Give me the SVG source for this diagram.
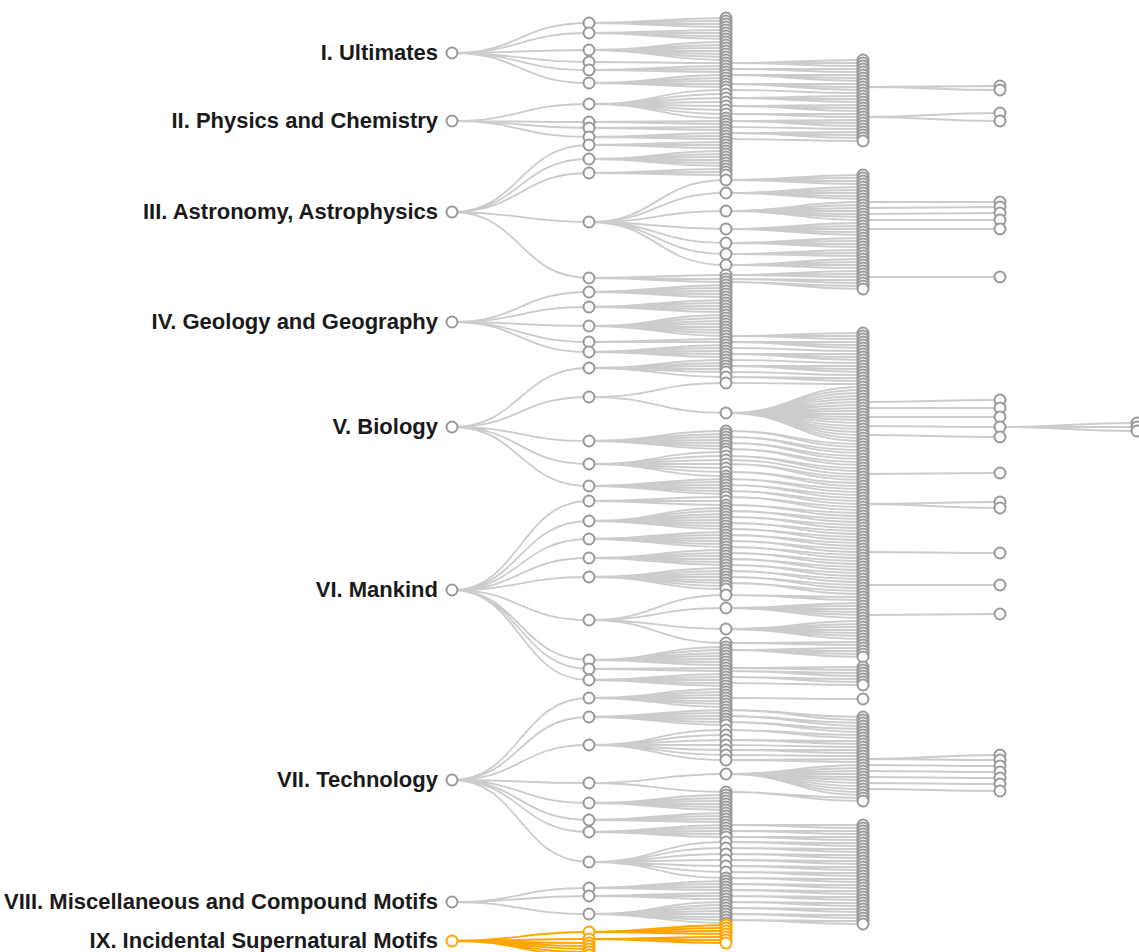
<svg xmlns="http://www.w3.org/2000/svg" width="1139" height="952" viewBox="0 0 1139 952">
<style>
.lk path{fill:none;stroke:#ccc;stroke-width:1.8}
.lk path.o{stroke:#ffa500}
circle{r:5.5px;fill:#fff;stroke:#999;stroke-width:2}
.o circle,circle.o{stroke:#ffa500}
text{font-family:"Liberation Sans",Arial,sans-serif;font-weight:bold;font-size:22px;fill:#1a1a1a;text-anchor:end}
</style>
<rect width="1139" height="952" fill="#fff"/>
<g id="links" class="lk">
<path d="M452 53c68 0 68 -30 137 -30M452 53c68 0 68 -20 137 -20M452 53c68 0 68 -3 137 -3M452 53c68 0 68 9 137 9M452 53c68 0 68 17 137 17M452 53c68 0 68 30 137 30"/>
<path d="M452 121c68 0 68 -17 137 -17M452 121c68 0 68 1 137 1M452 121c68 0 68 7 137 7M452 121c68 0 68 16 137 16"/>
<path d="M452 212c68 0 68 -67 137 -67M452 212c68 0 68 -53 137 -53M452 212c68 0 68 -39 137 -39M452 212c68 0 68 10 137 10M452 212c68 0 68 66 137 66"/>
<path d="M452 322c68 0 68 -30 137 -30M452 322c68 0 68 -15 137 -15M452 322c68 0 68 4 137 4M452 322c68 0 68 20 137 20M452 322c68 0 68 30 137 30"/>
<path d="M452 427c68 0 68 -59 137 -59M452 427c68 0 68 -30 137 -30M452 427c68 0 68 14 137 14M452 427c68 0 68 37 137 37M452 427c68 0 68 59 137 59"/>
<path d="M452 590c68 0 68 -89 137 -89M452 590c68 0 68 -69 137 -69M452 590c68 0 68 -51 137 -51M452 590c68 0 68 -32 137 -32M452 590c68 0 68 -13 137 -13M452 590c68 0 68 30 137 30M452 590c68 0 68 70 137 70M452 590c68 0 68 79 137 79M452 590c68 0 68 90 137 90"/>
<path d="M452 780c68 0 68 -82 137 -82M452 780c68 0 68 -63 137 -63M452 780c68 0 68 -35 137 -35M452 780c68 0 68 3 137 3M452 780c68 0 68 23 137 23M452 780c68 0 68 40 137 40M452 780c68 0 68 52 137 52M452 780c68 0 68 82 137 82"/>
<path d="M452 902c68 0 68 -14 137 -14M452 902c68 0 68 -6 137 -6M452 902c68 0 68 12 137 12"/>
<path d="M589 23c68 0 68 -5 137 -5M589 23c68 0 68 -2 137 -2M589 23c68 0 68 1 137 1M589 23c68 0 68 4 137 4M589 33c68 0 68 -3 137 -3M589 33c68 0 68 0 137 0M589 33c68 0 68 3 137 3M589 33c68 0 68 6 137 6M589 50c68 0 68 -8 137 -8M589 50c68 0 68 -5 137 -5M589 50c68 0 68 -2 137 -2M589 50c68 0 68 1 137 1M589 50c68 0 68 4 137 4M589 50c68 0 68 7 137 7M589 50c68 0 68 10 137 10M589 62c68 0 68 1 137 1M589 70c68 0 68 -4 137 -4M589 70c68 0 68 -1 137 -1M589 70c68 0 68 2 137 2M589 83c68 0 68 -8 137 -8M589 83c68 0 68 -5 137 -5M589 83c68 0 68 -2 137 -2M589 83c68 0 68 1 137 1M589 83c68 0 68 4 137 4"/>
<path d="M589 104c68 0 68 -14 137 -14M589 104c68 0 68 -10 137 -10M589 104c68 0 68 -6 137 -6M589 104c68 0 68 -2 137 -2M589 104c68 0 68 2 137 2M589 104c68 0 68 6 137 6M589 104c68 0 68 10 137 10M589 104c68 0 68 14 137 14M589 122c68 0 68 -1 137 -1M589 122c68 0 68 2 137 2M589 128c68 0 68 -1 137 -1M589 128c68 0 68 2 137 2M589 137c68 0 68 -4 137 -4M589 137c68 0 68 -1 137 -1M589 137c68 0 68 2 137 2"/>
<path d="M589 145c68 0 68 -3 137 -3M589 145c68 0 68 0 137 0M589 145c68 0 68 3 137 3M589 159c68 0 68 -8 137 -8M589 159c68 0 68 -5 137 -5M589 159c68 0 68 -2 137 -2M589 159c68 0 68 1 137 1M589 159c68 0 68 4 137 4M589 159c68 0 68 7 137 7M589 173c68 0 68 -4 137 -4M589 173c68 0 68 -1 137 -1M589 173c68 0 68 2 137 2M589 222c68 0 68 -42 137 -42M589 222c68 0 68 -29 137 -29M589 222c68 0 68 -11 137 -11M589 222c68 0 68 7 137 7M589 222c68 0 68 21 137 21M589 222c68 0 68 32 137 32M589 222c68 0 68 43 137 43M589 278c68 0 68 -3 137 -3M589 278c68 0 68 1 137 1M589 278c68 0 68 4 137 4"/>
<path d="M589 292c68 0 68 -7 137 -7M589 292c68 0 68 -4 137 -4M589 292c68 0 68 -1 137 -1M589 292c68 0 68 2 137 2M589 292c68 0 68 5 137 5M589 307c68 0 68 -7 137 -7M589 307c68 0 68 -4 137 -4M589 307c68 0 68 -1 137 -1M589 307c68 0 68 2 137 2M589 307c68 0 68 5 137 5M589 326c68 0 68 -11 137 -11M589 326c68 0 68 -8 137 -8M589 326c68 0 68 -5 137 -5M589 326c68 0 68 -2 137 -2M589 326c68 0 68 1 137 1M589 326c68 0 68 4 137 4M589 326c68 0 68 7 137 7M589 326c68 0 68 10 137 10M589 342c68 0 68 -3 137 -3M589 342c68 0 68 0 137 0M589 352c68 0 68 -7 137 -7M589 352c68 0 68 -4 137 -4M589 352c68 0 68 -1 137 -1M589 352c68 0 68 2 137 2M589 352c68 0 68 5 137 5"/>
<path d="M589 368c68 0 68 -8 137 -8M589 368c68 0 68 -5 137 -5M589 368c68 0 68 -2 137 -2M589 368c68 0 68 1 137 1M589 368c68 0 68 4 137 4M589 368c68 0 68 9 137 9M589 397c68 0 68 -14 137 -14M589 397c68 0 68 16 137 16M589 441c68 0 68 -10 137 -10M589 441c68 0 68 -7 137 -7M589 441c68 0 68 -4 137 -4M589 441c68 0 68 -1 137 -1M589 441c68 0 68 2 137 2M589 441c68 0 68 5 137 5M589 441c68 0 68 8 137 8M589 464c68 0 68 -12 137 -12M589 464c68 0 68 -8 137 -8M589 464c68 0 68 -4 137 -4M589 464c68 0 68 0 137 0M589 464c68 0 68 4 137 4M589 464c68 0 68 8 137 8M589 464c68 0 68 12 137 12M589 486c68 0 68 -7 137 -7M589 486c68 0 68 -4 137 -4M589 486c68 0 68 -1 137 -1M589 486c68 0 68 2 137 2M589 486c68 0 68 5 137 5M589 486c68 0 68 8 137 8"/>
<path d="M589 501c68 0 68 -4 137 -4M589 501c68 0 68 0 137 0M589 501c68 0 68 4 137 4M589 521c68 0 68 -13 137 -13M589 521c68 0 68 -10 137 -10M589 521c68 0 68 -7 137 -7M589 521c68 0 68 -4 137 -4M589 521c68 0 68 -1 137 -1M589 521c68 0 68 2 137 2M589 521c68 0 68 5 137 5M589 521c68 0 68 8 137 8M589 539c68 0 68 -7 137 -7M589 539c68 0 68 -4 137 -4M589 539c68 0 68 -1 137 -1M589 539c68 0 68 2 137 2M589 539c68 0 68 5 137 5M589 539c68 0 68 8 137 8M589 558c68 0 68 -8 137 -8M589 558c68 0 68 -5 137 -5M589 558c68 0 68 -2 137 -2M589 558c68 0 68 1 137 1M589 558c68 0 68 4 137 4M589 558c68 0 68 7 137 7M589 577c68 0 68 -9 137 -9M589 577c68 0 68 -6 137 -6M589 577c68 0 68 -3 137 -3M589 577c68 0 68 0 137 0M589 577c68 0 68 3 137 3M589 577c68 0 68 6 137 6M589 577c68 0 68 9 137 9M589 577c68 0 68 12 137 12M589 620c68 0 68 -25 137 -25M589 620c68 0 68 -12 137 -12M589 620c68 0 68 9 137 9M589 620c68 0 68 23 137 23M589 660c68 0 68 -13 137 -13M589 660c68 0 68 -10 137 -10M589 660c68 0 68 -7 137 -7M589 660c68 0 68 -4 137 -4M589 660c68 0 68 -1 137 -1M589 660c68 0 68 2 137 2M589 660c68 0 68 5 137 5M589 669c68 0 68 -1 137 -1M589 669c68 0 68 2 137 2M589 680c68 0 68 -6 137 -6M589 680c68 0 68 -3 137 -3M589 680c68 0 68 0 137 0M589 680c68 0 68 3 137 3M589 680c68 0 68 6 137 6"/>
<path d="M589 698c68 0 68 -9 137 -9M589 698c68 0 68 -6 137 -6M589 698c68 0 68 -3 137 -3M589 698c68 0 68 0 137 0M589 698c68 0 68 3 137 3M589 698c68 0 68 6 137 6M589 698c68 0 68 9 137 9M589 717c68 0 68 -7 137 -7M589 717c68 0 68 -4 137 -4M589 717c68 0 68 -1 137 -1M589 717c68 0 68 2 137 2M589 717c68 0 68 5 137 5M589 717c68 0 68 8 137 8M589 745c68 0 68 -15 137 -15M589 745c68 0 68 -10 137 -10M589 745c68 0 68 -5 137 -5M589 745c68 0 68 0 137 0M589 745c68 0 68 5 137 5M589 745c68 0 68 10 137 10M589 745c68 0 68 15 137 15M589 783c68 0 68 -9 137 -9M589 783c68 0 68 9 137 9M589 803c68 0 68 -8 137 -8M589 803c68 0 68 -5 137 -5M589 803c68 0 68 -2 137 -2M589 803c68 0 68 1 137 1M589 803c68 0 68 4 137 4M589 803c68 0 68 7 137 7M589 820c68 0 68 -7 137 -7M589 820c68 0 68 -4 137 -4M589 820c68 0 68 -1 137 -1M589 820c68 0 68 2 137 2M589 832c68 0 68 -7 137 -7M589 832c68 0 68 -4 137 -4M589 832c68 0 68 -1 137 -1M589 832c68 0 68 2 137 2M589 832c68 0 68 5 137 5M589 862c68 0 68 -20 137 -20M589 862c68 0 68 -14 137 -14M589 862c68 0 68 -8 137 -8M589 862c68 0 68 -2 137 -2M589 862c68 0 68 4 137 4M589 862c68 0 68 10 137 10M589 862c68 0 68 16 137 16"/>
<path d="M589 888c68 0 68 -7 137 -7M589 888c68 0 68 -4 137 -4M589 888c68 0 68 -1 137 -1M589 888c68 0 68 2 137 2M589 896c68 0 68 -3 137 -3M589 896c68 0 68 0 137 0M589 896c68 0 68 3 137 3M589 914c68 0 68 -12 137 -12M589 914c68 0 68 -9 137 -9M589 914c68 0 68 -6 137 -6M589 914c68 0 68 -3 137 -3M589 914c68 0 68 0 137 0M589 914c68 0 68 3 137 3M589 914c68 0 68 6 137 6M589 914c68 0 68 9 137 9"/>
<path d="M726 63c68 0 68 -3 137 -3M726 63c68 0 68 0 137 0M726 63c68 0 68 3 137 3M726 69c68 0 68 0 137 0M726 69c68 0 68 3 137 3M726 75c68 0 68 0 137 0M726 75c68 0 68 3 137 3M726 75c68 0 68 6 137 6M726 84c68 0 68 0 137 0M726 84c68 0 68 3 137 3M726 84c68 0 68 6 137 6M726 90c68 0 68 3 137 3M726 98c68 0 68 -2 137 -2M726 98c68 0 68 1 137 1M726 98c68 0 68 4 137 4M726 106c68 0 68 -1 137 -1M726 106c68 0 68 2 137 2M726 106c68 0 68 5 137 5M726 114c68 0 68 0 137 0M726 114c68 0 68 3 137 3M726 121c68 0 68 -1 137 -1M726 121c68 0 68 2 137 2M726 121c68 0 68 5 137 5M726 127c68 0 68 2 137 2M726 133c68 0 68 -1 137 -1M726 133c68 0 68 2 137 2M726 133c68 0 68 5 137 5M726 139c68 0 68 2 137 2"/>
<path d="M726 180c68 0 68 -5 137 -5M726 180c68 0 68 -2 137 -2M726 180c68 0 68 1 137 1M726 180c68 0 68 4 137 4M726 193c68 0 68 -6 137 -6M726 193c68 0 68 -3 137 -3M726 193c68 0 68 0 137 0M726 193c68 0 68 3 137 3M726 193c68 0 68 6 137 6M726 211c68 0 68 -9 137 -9M726 211c68 0 68 -6 137 -6M726 211c68 0 68 -3 137 -3M726 211c68 0 68 0 137 0M726 211c68 0 68 3 137 3M726 211c68 0 68 6 137 6M726 211c68 0 68 9 137 9M726 229c68 0 68 -6 137 -6M726 229c68 0 68 -3 137 -3M726 229c68 0 68 0 137 0M726 229c68 0 68 3 137 3M726 229c68 0 68 6 137 6M726 243c68 0 68 -5 137 -5M726 243c68 0 68 -2 137 -2M726 243c68 0 68 1 137 1M726 243c68 0 68 4 137 4M726 254c68 0 68 -4 137 -4M726 254c68 0 68 -1 137 -1M726 254c68 0 68 2 137 2M726 265c68 0 68 -6 137 -6M726 265c68 0 68 -3 137 -3M726 265c68 0 68 0 137 0M726 265c68 0 68 3 137 3M726 275c68 0 68 -4 137 -4M726 275c68 0 68 -1 137 -1M726 275c68 0 68 2 137 2M726 279c68 0 68 1 137 1M726 279c68 0 68 4 137 4M726 282c68 0 68 4 137 4M726 282c68 0 68 7 137 7"/>
<path d="M726 336c68 0 68 -3 137 -3M726 336c68 0 68 0 137 0M726 336c68 0 68 3 137 3M726 342c68 0 68 0 137 0M726 342c68 0 68 3 137 3M726 342c68 0 68 6 137 6M726 348c68 0 68 3 137 3M726 354c68 0 68 0 137 0M726 354c68 0 68 3 137 3M726 354c68 0 68 6 137 6M726 360c68 0 68 3 137 3M726 366c68 0 68 0 137 0M726 366c68 0 68 3 137 3M726 366c68 0 68 6 137 6M726 372c68 0 68 3 137 3M726 377c68 0 68 1 137 1M726 377c68 0 68 4 137 4M726 383c68 0 68 1 137 1M726 413c68 0 68 -26 137 -26M726 413c68 0 68 -23 137 -23M726 413c68 0 68 -20 137 -20M726 413c68 0 68 -17 137 -17M726 413c68 0 68 -14 137 -14M726 413c68 0 68 -11 137 -11M726 413c68 0 68 -8 137 -8M726 413c68 0 68 -5 137 -5M726 413c68 0 68 -2 137 -2M726 413c68 0 68 1 137 1M726 413c68 0 68 4 137 4M726 413c68 0 68 7 137 7M726 413c68 0 68 10 137 10M726 413c68 0 68 13 137 13M726 413c68 0 68 16 137 16M726 413c68 0 68 19 137 19M726 413c68 0 68 22 137 22M726 413c68 0 68 25 137 25M726 413c68 0 68 28 137 28"/>
<path d="M726 431c68 0 68 13 137 13M726 431c68 0 68 16 137 16M726 437c68 0 68 13 137 13M726 437c68 0 68 16 137 16M726 443c68 0 68 13 137 13M726 443c68 0 68 16 137 16M726 449c68 0 68 13 137 13M726 449c68 0 68 16 137 16M726 456c68 0 68 12 137 12M726 456c68 0 68 15 137 15M726 460c68 0 68 14 137 14M726 464c68 0 68 13 137 13M726 464c68 0 68 16 137 16M726 472c68 0 68 11 137 11M726 472c68 0 68 14 137 14M726 479c68 0 68 10 137 10M726 479c68 0 68 13 137 13M726 485c68 0 68 10 137 10M726 485c68 0 68 13 137 13M726 491c68 0 68 10 137 10M726 491c68 0 68 13 137 13M726 497c68 0 68 10 137 10M726 497c68 0 68 13 137 13M726 505c68 0 68 8 137 8M726 505c68 0 68 11 137 11M726 511c68 0 68 8 137 8M726 511c68 0 68 11 137 11M726 517c68 0 68 8 137 8M726 517c68 0 68 11 137 11M726 523c68 0 68 8 137 8M726 523c68 0 68 11 137 11M726 529c68 0 68 8 137 8M726 529c68 0 68 11 137 11M726 535c68 0 68 8 137 8M726 535c68 0 68 11 137 11M726 541c68 0 68 8 137 8M726 541c68 0 68 11 137 11M726 547c68 0 68 8 137 8M726 547c68 0 68 11 137 11M726 553c68 0 68 8 137 8M726 553c68 0 68 11 137 11M726 559c68 0 68 8 137 8M726 559c68 0 68 11 137 11M726 565c68 0 68 8 137 8M726 565c68 0 68 11 137 11M726 571c68 0 68 8 137 8M726 571c68 0 68 11 137 11M726 577c68 0 68 8 137 8M726 577c68 0 68 11 137 11M726 583c68 0 68 8 137 8M726 583c68 0 68 11 137 11M726 595c68 0 68 2 137 2M726 595c68 0 68 5 137 5M726 608c68 0 68 -5 137 -5M726 608c68 0 68 -2 137 -2M726 608c68 0 68 1 137 1M726 608c68 0 68 4 137 4M726 608c68 0 68 7 137 7M726 608c68 0 68 10 137 10M726 629c68 0 68 -8 137 -8M726 629c68 0 68 -5 137 -5M726 629c68 0 68 -2 137 -2M726 629c68 0 68 1 137 1M726 629c68 0 68 4 137 4M726 629c68 0 68 7 137 7M726 629c68 0 68 10 137 10M726 643c68 0 68 -1 137 -1M726 643c68 0 68 2 137 2M726 650c68 0 68 -2 137 -2M726 650c68 0 68 1 137 1M726 650c68 0 68 4 137 4M726 650c68 0 68 7 137 7"/>
<path d="M726 668c68 0 68 -1 137 -1M726 668c68 0 68 2 137 2M726 671c68 0 68 2 137 2M726 671c68 0 68 5 137 5M726 677c68 0 68 2 137 2M726 677c68 0 68 5 137 5M726 683c68 0 68 2 137 2M726 698c68 0 68 1 137 1"/>
<path d="M726 710c68 0 68 7 137 7M726 710c68 0 68 10 137 10M726 716c68 0 68 7 137 7M726 716c68 0 68 10 137 10M726 722c68 0 68 7 137 7M726 722c68 0 68 10 137 10M726 730c68 0 68 5 137 5M726 730c68 0 68 8 137 8M726 740c68 0 68 1 137 1M726 740c68 0 68 4 137 4M726 745c68 0 68 2 137 2M726 750c68 0 68 0 137 0M726 750c68 0 68 3 137 3M726 755c68 0 68 1 137 1M726 760c68 0 68 -1 137 -1M726 760c68 0 68 2 137 2M726 774c68 0 68 -9 137 -9M726 774c68 0 68 -6 137 -6M726 774c68 0 68 -3 137 -3M726 774c68 0 68 0 137 0M726 774c68 0 68 3 137 3M726 774c68 0 68 6 137 6M726 774c68 0 68 9 137 9M726 774c68 0 68 12 137 12M726 774c68 0 68 15 137 15M726 774c68 0 68 18 137 18M726 774c68 0 68 21 137 21M726 792c68 0 68 6 137 6M726 792c68 0 68 9 137 9"/>
<path d="M726 825c68 0 68 0 137 0M726 825c68 0 68 3 137 3M726 831c68 0 68 0 137 0M726 831c68 0 68 3 137 3M726 837c68 0 68 0 137 0M726 837c68 0 68 3 137 3M726 842c68 0 68 1 137 1M726 842c68 0 68 4 137 4M726 848c68 0 68 1 137 1M726 848c68 0 68 4 137 4M726 854c68 0 68 1 137 1M726 854c68 0 68 4 137 4M726 860c68 0 68 1 137 1M726 860c68 0 68 4 137 4M726 866c68 0 68 1 137 1M726 866c68 0 68 4 137 4M726 872c68 0 68 1 137 1M726 872c68 0 68 4 137 4M726 878c68 0 68 1 137 1M726 878c68 0 68 4 137 4M726 884c68 0 68 1 137 1M726 884c68 0 68 4 137 4M726 890c68 0 68 1 137 1M726 890c68 0 68 4 137 4M726 896c68 0 68 1 137 1M726 896c68 0 68 4 137 4M726 902c68 0 68 1 137 1M726 902c68 0 68 4 137 4M726 908c68 0 68 1 137 1M726 908c68 0 68 4 137 4M726 914c68 0 68 1 137 1M726 914c68 0 68 4 137 4M726 920c68 0 68 1 137 1M726 920c68 0 68 4 137 4"/>
<path d="M863 87c68 0 68 -1 137 -1M863 87c68 0 68 3 137 3M863 117c68 0 68 -4 137 -4M863 117c68 0 68 4 137 4M863 202c68 0 68 0 137 0M863 208c68 0 68 -1 137 -1M863 214c68 0 68 -1 137 -1M863 220c68 0 68 0 137 0M863 229c68 0 68 0 137 0M863 277c68 0 68 0 137 0M863 402c68 0 68 -2 137 -2M863 408c68 0 68 0 137 0M863 417c68 0 68 0 137 0M863 426c68 0 68 1 137 1M863 435c68 0 68 2 137 2M863 474c68 0 68 -1 137 -1M863 504c68 0 68 -2 137 -2M863 504c68 0 68 4 137 4M863 552c68 0 68 1 137 1M863 585c68 0 68 0 137 0M863 615c68 0 68 -1 137 -1M863 759c68 0 68 -4 137 -4M863 759c68 0 68 1 137 1M863 765c68 0 68 1 137 1M863 771c68 0 68 1 137 1M863 777c68 0 68 1 137 1M863 783c68 0 68 1 137 1M863 789c68 0 68 2 137 2"/>
<path d="M1000 427c68 0 68 -4 137 -4M1000 427c68 0 68 0 137 0M1000 427c68 0 68 4 137 4"/>
<path class="o" d="M452 941c68 0 68 -9 137 -9M452 941c68 0 68 -2 137 -2M452 941c68 0 68 2 137 2M452 941c68 0 68 5 137 5M452 941c68 0 68 8 137 8M452 941c68 0 68 11 137 11M452 941c68 0 68 14 137 14M589 932c68 0 68 -7 137 -7M589 932c68 0 68 -4 137 -4M589 932c68 0 68 -1 137 -1M589 932c68 0 68 2 137 2M589 939c68 0 68 -2 137 -2M589 939c68 0 68 1 137 1M589 939c68 0 68 4 137 4"/>
</g>
<g id="n-I"><circle cx="452" cy="53"/><text x="438" y="60">I. Ultimates</text></g>
<g id="n-II"><circle cx="452" cy="121"/><text x="438" y="128">II. Physics and Chemistry</text></g>
<g id="n-III"><circle cx="452" cy="212"/><text x="438" y="219">III. Astronomy, Astrophysics</text></g>
<g id="n-IV"><circle cx="452" cy="322"/><text x="438" y="329">IV. Geology and Geography</text></g>
<g id="n-V"><circle cx="452" cy="427"/><text x="438" y="434">V. Biology</text></g>
<g id="n-VI"><circle cx="452" cy="590"/><text x="438" y="597">VI. Mankind</text></g>
<g id="n-VII"><circle cx="452" cy="780"/><text x="438" y="787">VII. Technology</text></g>
<g id="n-VIII"><circle cx="452" cy="902"/><text x="438" y="909">VIII. Miscellaneous and Compound Motifs</text></g>
<g id="n-IX" class="o"><circle cx="452" cy="941"/><text x="438" y="948">IX. Incidental Supernatural Motifs</text></g>
<g id="l2" transform="translate(589 0)">
<g id="l2-I"><circle cy="23"/><circle cy="33"/><circle cy="50"/><circle cy="62"/><circle cy="70"/><circle cy="83"/></g>
<g id="l2-II"><circle cy="104"/><circle cy="122"/><circle cy="128"/><circle cy="137"/></g>
<g id="l2-III"><circle cy="145"/><circle cy="159"/><circle cy="173"/><circle cy="222"/><circle cy="278"/></g>
<g id="l2-IV"><circle cy="292"/><circle cy="307"/><circle cy="326"/><circle cy="342"/><circle cy="352"/></g>
<g id="l2-V"><circle cy="368"/><circle cy="397"/><circle cy="441"/><circle cy="464"/><circle cy="486"/></g>
<g id="l2-VI"><circle cy="501"/><circle cy="521"/><circle cy="539"/><circle cy="558"/><circle cy="577"/><circle cy="620"/><circle cy="660"/><circle cy="669"/><circle cy="680"/></g>
<g id="l2-VII"><circle cy="698"/><circle cy="717"/><circle cy="745"/><circle cy="783"/><circle cy="803"/><circle cy="820"/><circle cy="832"/><circle cy="862"/></g>
<g id="l2-VIII"><circle cy="888"/><circle cy="896"/><circle cy="914"/></g>
<g id="l2-IX" class="o"><circle cy="932"/><circle cy="939"/><circle cy="943"/><circle cy="946"/><circle cy="949"/><circle cy="952"/><circle cy="955"/></g>
</g>
<g id="l3" transform="translate(726 0)">
<g id="l3-I"><circle cy="18"/><circle cy="21"/><circle cy="24"/><circle cy="27"/><circle cy="30"/><circle cy="33"/><circle cy="36"/><circle cy="39"/><circle cy="42"/><circle cy="45"/><circle cy="48"/><circle cy="51"/><circle cy="54"/><circle cy="57"/><circle cy="60"/><circle cy="63"/><circle cy="66"/><circle cy="69"/><circle cy="72"/><circle cy="75"/><circle cy="78"/><circle cy="81"/><circle cy="84"/><circle cy="87"/></g>
<g id="l3-II"><circle cy="90"/><circle cy="94"/><circle cy="98"/><circle cy="102"/><circle cy="106"/><circle cy="110"/><circle cy="114"/><circle cy="118"/><circle cy="121"/><circle cy="124"/><circle cy="127"/><circle cy="130"/><circle cy="133"/><circle cy="136"/><circle cy="139"/></g>
<g id="l3-III"><circle cy="142"/><circle cy="145"/><circle cy="148"/><circle cy="151"/><circle cy="154"/><circle cy="157"/><circle cy="160"/><circle cy="163"/><circle cy="166"/><circle cy="169"/><circle cy="172"/><circle cy="175"/><circle cy="180"/><circle cy="193"/><circle cy="211"/><circle cy="229"/><circle cy="243"/><circle cy="254"/><circle cy="265"/><circle cy="275"/><circle cy="279"/><circle cy="282"/></g>
<g id="l3-IV"><circle cy="285"/><circle cy="288"/><circle cy="291"/><circle cy="294"/><circle cy="297"/><circle cy="300"/><circle cy="303"/><circle cy="306"/><circle cy="309"/><circle cy="312"/><circle cy="315"/><circle cy="318"/><circle cy="321"/><circle cy="324"/><circle cy="327"/><circle cy="330"/><circle cy="333"/><circle cy="336"/><circle cy="339"/><circle cy="342"/><circle cy="345"/><circle cy="348"/><circle cy="351"/><circle cy="354"/><circle cy="357"/></g>
<g id="l3-V"><circle cy="360"/><circle cy="363"/><circle cy="366"/><circle cy="369"/><circle cy="372"/><circle cy="377"/><circle cy="383"/><circle cy="413"/><circle cy="431"/><circle cy="434"/><circle cy="437"/><circle cy="440"/><circle cy="443"/><circle cy="446"/><circle cy="449"/><circle cy="452"/><circle cy="456"/><circle cy="460"/><circle cy="464"/><circle cy="468"/><circle cy="472"/><circle cy="476"/><circle cy="479"/><circle cy="482"/><circle cy="485"/><circle cy="488"/><circle cy="491"/><circle cy="494"/></g>
<g id="l3-VI"><circle cy="497"/><circle cy="501"/><circle cy="505"/><circle cy="508"/><circle cy="511"/><circle cy="514"/><circle cy="517"/><circle cy="520"/><circle cy="523"/><circle cy="526"/><circle cy="529"/><circle cy="532"/><circle cy="535"/><circle cy="538"/><circle cy="541"/><circle cy="544"/><circle cy="547"/><circle cy="550"/><circle cy="553"/><circle cy="556"/><circle cy="559"/><circle cy="562"/><circle cy="565"/><circle cy="568"/><circle cy="571"/><circle cy="574"/><circle cy="577"/><circle cy="580"/><circle cy="583"/><circle cy="586"/><circle cy="589"/><circle cy="595"/><circle cy="608"/><circle cy="629"/><circle cy="643"/><circle cy="647"/><circle cy="650"/><circle cy="653"/><circle cy="656"/><circle cy="659"/><circle cy="662"/><circle cy="665"/><circle cy="668"/><circle cy="671"/><circle cy="674"/><circle cy="677"/><circle cy="680"/><circle cy="683"/><circle cy="686"/></g>
<g id="l3-VII"><circle cy="689"/><circle cy="692"/><circle cy="695"/><circle cy="698"/><circle cy="701"/><circle cy="704"/><circle cy="707"/><circle cy="710"/><circle cy="713"/><circle cy="716"/><circle cy="719"/><circle cy="722"/><circle cy="725"/><circle cy="730"/><circle cy="735"/><circle cy="740"/><circle cy="745"/><circle cy="750"/><circle cy="755"/><circle cy="760"/><circle cy="774"/><circle cy="792"/><circle cy="795"/><circle cy="798"/><circle cy="801"/><circle cy="804"/><circle cy="807"/><circle cy="810"/><circle cy="813"/><circle cy="816"/><circle cy="819"/><circle cy="822"/><circle cy="825"/><circle cy="828"/><circle cy="831"/><circle cy="834"/><circle cy="837"/><circle cy="842"/><circle cy="848"/><circle cy="854"/><circle cy="860"/><circle cy="866"/><circle cy="872"/><circle cy="878"/></g>
<g id="l3-VIII"><circle cy="881"/><circle cy="884"/><circle cy="887"/><circle cy="890"/><circle cy="893"/><circle cy="896"/><circle cy="899"/><circle cy="902"/><circle cy="905"/><circle cy="908"/><circle cy="911"/><circle cy="914"/><circle cy="917"/><circle cy="920"/><circle cy="923"/></g>
<g id="l3-IX" class="o"><circle cy="925"/><circle cy="928"/><circle cy="931"/><circle cy="934"/><circle cy="937"/><circle cy="940"/><circle cy="943"/></g>
</g>
<g id="l4" transform="translate(863 0)">
<g id="l4-a"><circle cy="60"/><circle cy="63"/><circle cy="66"/><circle cy="69"/><circle cy="72"/><circle cy="75"/><circle cy="78"/><circle cy="81"/><circle cy="84"/><circle cy="87"/><circle cy="90"/><circle cy="93"/><circle cy="96"/><circle cy="99"/><circle cy="102"/><circle cy="105"/><circle cy="108"/><circle cy="111"/><circle cy="114"/><circle cy="117"/><circle cy="120"/><circle cy="123"/><circle cy="126"/><circle cy="129"/><circle cy="132"/><circle cy="135"/><circle cy="138"/><circle cy="141"/></g>
<g id="l4-b"><circle cy="175"/><circle cy="178"/><circle cy="181"/><circle cy="184"/><circle cy="187"/><circle cy="190"/><circle cy="193"/><circle cy="196"/><circle cy="199"/><circle cy="202"/><circle cy="205"/><circle cy="208"/><circle cy="211"/><circle cy="214"/><circle cy="217"/><circle cy="220"/><circle cy="223"/><circle cy="226"/><circle cy="229"/><circle cy="232"/><circle cy="235"/><circle cy="238"/><circle cy="241"/><circle cy="244"/><circle cy="247"/><circle cy="250"/><circle cy="253"/><circle cy="256"/><circle cy="259"/><circle cy="262"/><circle cy="265"/><circle cy="268"/><circle cy="271"/><circle cy="274"/><circle cy="277"/><circle cy="280"/><circle cy="283"/><circle cy="286"/><circle cy="289"/></g>
<g id="l4-c"><circle cy="333"/><circle cy="336"/><circle cy="339"/><circle cy="342"/><circle cy="345"/><circle cy="348"/><circle cy="351"/><circle cy="354"/><circle cy="357"/><circle cy="360"/><circle cy="363"/><circle cy="366"/><circle cy="369"/><circle cy="372"/><circle cy="375"/><circle cy="378"/><circle cy="381"/><circle cy="384"/><circle cy="387"/><circle cy="390"/><circle cy="393"/><circle cy="396"/><circle cy="399"/><circle cy="402"/><circle cy="405"/><circle cy="408"/><circle cy="411"/><circle cy="414"/><circle cy="417"/><circle cy="420"/><circle cy="423"/><circle cy="426"/><circle cy="429"/><circle cy="432"/><circle cy="435"/><circle cy="438"/><circle cy="441"/></g>
<g id="l4-d"><circle cy="444"/><circle cy="447"/><circle cy="450"/><circle cy="453"/><circle cy="456"/><circle cy="459"/><circle cy="462"/><circle cy="465"/><circle cy="468"/><circle cy="471"/><circle cy="474"/><circle cy="477"/><circle cy="480"/><circle cy="483"/><circle cy="486"/><circle cy="489"/><circle cy="492"/><circle cy="495"/><circle cy="498"/><circle cy="501"/><circle cy="504"/><circle cy="507"/><circle cy="510"/><circle cy="513"/><circle cy="516"/><circle cy="519"/><circle cy="522"/><circle cy="525"/><circle cy="528"/><circle cy="531"/><circle cy="534"/><circle cy="537"/><circle cy="540"/><circle cy="543"/><circle cy="546"/><circle cy="549"/><circle cy="552"/><circle cy="555"/><circle cy="558"/><circle cy="561"/><circle cy="564"/><circle cy="567"/><circle cy="570"/><circle cy="573"/><circle cy="576"/><circle cy="579"/><circle cy="582"/><circle cy="585"/><circle cy="588"/><circle cy="591"/><circle cy="594"/><circle cy="597"/><circle cy="600"/><circle cy="603"/><circle cy="606"/><circle cy="609"/><circle cy="612"/><circle cy="615"/><circle cy="618"/><circle cy="621"/><circle cy="624"/><circle cy="627"/><circle cy="630"/><circle cy="633"/><circle cy="636"/><circle cy="639"/><circle cy="642"/><circle cy="645"/><circle cy="648"/><circle cy="651"/><circle cy="654"/><circle cy="657"/></g>
<g id="l4-s"><circle cy="667"/><circle cy="670"/><circle cy="673"/><circle cy="676"/><circle cy="679"/><circle cy="682"/><circle cy="685"/><circle cy="699"/></g>
<g id="l4-e"><circle cy="717"/><circle cy="720"/><circle cy="723"/><circle cy="726"/><circle cy="729"/><circle cy="732"/><circle cy="735"/><circle cy="738"/><circle cy="741"/><circle cy="744"/><circle cy="747"/><circle cy="750"/><circle cy="753"/><circle cy="756"/><circle cy="759"/><circle cy="762"/><circle cy="765"/><circle cy="768"/><circle cy="771"/><circle cy="774"/><circle cy="777"/><circle cy="780"/><circle cy="783"/><circle cy="786"/><circle cy="789"/><circle cy="792"/><circle cy="795"/><circle cy="798"/><circle cy="801"/></g>
<g id="l4-f"><circle cy="825"/><circle cy="828"/><circle cy="831"/><circle cy="834"/><circle cy="837"/><circle cy="840"/><circle cy="843"/><circle cy="846"/><circle cy="849"/><circle cy="852"/><circle cy="855"/><circle cy="858"/><circle cy="861"/><circle cy="864"/><circle cy="867"/><circle cy="870"/><circle cy="873"/><circle cy="876"/><circle cy="879"/><circle cy="882"/><circle cy="885"/><circle cy="888"/><circle cy="891"/><circle cy="894"/><circle cy="897"/><circle cy="900"/><circle cy="903"/><circle cy="906"/><circle cy="909"/><circle cy="912"/><circle cy="915"/><circle cy="918"/><circle cy="921"/><circle cy="924"/></g>
</g>
<g id="l5" transform="translate(1000 0)"><circle cy="86"/><circle cy="90"/><circle cy="113"/><circle cy="121"/><circle cy="202"/><circle cy="207"/><circle cy="213"/><circle cy="220"/><circle cy="229"/><circle cy="277"/><circle cy="400"/><circle cy="408"/><circle cy="417"/><circle cy="427"/><circle cy="437"/><circle cy="473"/><circle cy="502"/><circle cy="508"/><circle cy="553"/><circle cy="585"/><circle cy="614"/><circle cy="755"/><circle cy="760"/><circle cy="766"/><circle cy="772"/><circle cy="778"/><circle cy="784"/><circle cy="791"/></g>
<g id="l6" transform="translate(1137 0)"><circle cy="423"/><circle cy="427"/><circle cy="431"/></g>
</svg>
